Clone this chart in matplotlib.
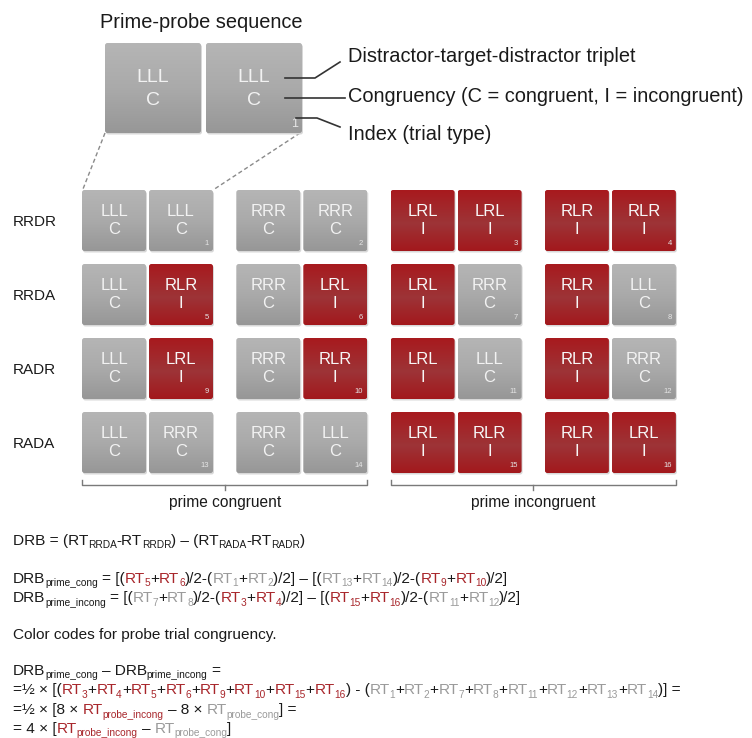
import numpy as np
import matplotlib
matplotlib.use("Agg")
import matplotlib.pyplot as plt
from matplotlib.patches import FancyBboxPatch
from matplotlib import font_manager
from matplotlib.font_manager import FontProperties

# ---------------- data ----------------
row_labels = ["RRDR", "RRDA", "RADR", "RADA"]
# each row: 4 prime-probe pairs -> (prime triplet, prime cong, probe triplet, probe cong, index)
row_rrdr = [("LLL", "C", "LLL", "C", 1), ("RRR", "C", "RRR", "C", 2),
            ("LRL", "I", "LRL", "I", 3), ("RLR", "I", "RLR", "I", 4)]
row_rrda = [("LLL", "C", "RLR", "I", 5), ("RRR", "C", "LRL", "I", 6),
            ("LRL", "I", "RRR", "C", 7), ("RLR", "I", "LLL", "C", 8)]
row_radr = [("LLL", "C", "LRL", "I", 9), ("RRR", "C", "RLR", "I", 10),
            ("LRL", "I", "LLL", "C", 11), ("RLR", "I", "RRR", "C", 12)]
row_rada = [("LLL", "C", "RRR", "C", 13), ("RRR", "C", "LLL", "C", 14),
            ("LRL", "I", "RLR", "I", 15), ("RLR", "I", "LRL", "I", 16)]
grid_rows = [row_rrdr, row_rrda, row_radr, row_rada]
group_labels = ["prime congruent", "prime incongruent"]
example_pair = ("LLL", "C", "LLL", "C", 1)
legend_texts = ["Distractor-target-distractor triplet",
                "Congruency (C = congruent, I = incongruent)",
                "Index (trial type)"]
red_idx = [3, 4, 5, 6, 9, 10, 15, 16]
gray_idx = [1, 2, 7, 8, 11, 12, 13, 14]

# ---------------- style ----------------
def pick_font(names):
    for n in names:
        try:
            font_manager.findfont(n, fallback_to_default=False)
            return n
        except Exception:
            pass
    return "DejaVu Sans"

FONT = pick_font(["Liberation Sans", "Arial", "DejaVu Sans"])
plt.rcParams["font.family"] = [FONT, "DejaVu Sans"]

BLACK = "#1a1a1a"
RED = "#a8262b"
GRAY = "#9a9a9a"

W, H = 752, 738
fig = plt.figure(figsize=(W / 100, H / 100), dpi=100)
ax = fig.add_axes([0, 0, 1, 1])
ax.set_xlim(0, W)
ax.set_ylim(H, 0)
ax.axis("off")
renderer = fig.canvas.get_renderer()


def gradient(kind):
    if kind == "C":
        stops = [(0.0, (181, 181, 181)), (0.5, (170, 170, 170)), (1.0, (151, 151, 151))]
    else:
        stops = [(0.0, (168, 26, 30)), (0.55, (157, 52, 55)), (1.0, (163, 24, 28))]
    n = 64
    t = np.linspace(0, 1, n)
    arr = np.zeros((n, 1, 3))
    for c in range(3):
        arr[:, 0, c] = np.interp(t, [s[0] for s in stops], [s[1][c] for s in stops]) / 255.0
    return arr


def draw_box(x, y, w, h, trip, cong, idx=None, fs=12, ifs=6.0, big=False):
    sh = FancyBboxPatch((x + 1.0, y + 1.5), w, h, boxstyle="round,pad=0,rounding_size=2.5",
                        fc="#d8d8d8", ec="none", zorder=1)
    ax.add_patch(sh)
    patch = FancyBboxPatch((x, y), w, h, boxstyle="round,pad=0,rounding_size=2.5",
                           fc="none", ec="none", zorder=2)
    ax.add_patch(patch)
    im = ax.imshow(gradient(cong), extent=(x, x + w, y + h, y), aspect="auto",
                   interpolation="bilinear", zorder=2)
    im.set_clip_path(patch)
    tc = "#f2f2f2" if cong == "C" else "#f7f7f7"
    cx = x + w / 2
    off1, off2 = (0.36, 0.64) if not big else (0.38, 0.64)
    ax.text(cx, y + h * off1, trip, ha="center", va="center", color=tc, fontsize=fs, zorder=3)
    ax.text(cx, y + h * off2, cong, ha="center", va="center", color=tc, fontsize=fs, zorder=3)
    if idx is not None:
        ax.text(x + w - 4, y + h - 6, str(idx), ha="right", va="baseline",
                color="#e6e6e6", fontsize=ifs, zorder=3)


# ---------------- top example ----------------
TFS = 14.4
ax.text(100, 22, "Prime-probe sequence", ha="left", va="center", fontsize=TFS, color=BLACK)
bx = [105, 206]
bw, bh, by = 96, 90, 43
p_trip, p_cong, q_trip, q_cong, q_idx = example_pair
draw_box(bx[0], by, bw, bh, p_trip, p_cong, None, fs=14, big=True)
draw_box(bx[1], by, bw, bh, q_trip, q_cong, q_idx, fs=14, ifs=9, big=True)

lc = "#333333"
ax.plot([285, 315, 340], [78, 78, 62], color=lc, lw=1.2, zorder=4)
ax.plot([285, 345], [98, 98], color=lc, lw=1.2, zorder=4)
ax.plot([296, 317, 340], [118, 118, 127], color=lc, lw=1.2, zorder=4)
ax.text(348, 56, legend_texts[0], ha="left", va="center", fontsize=TFS, color=BLACK)
ax.text(348, 97, legend_texts[1], ha="left", va="center", fontsize=TFS, color=BLACK)
ax.text(348, 134, legend_texts[2], ha="left", va="center", fontsize=TFS, color=BLACK)

# ---------------- grid ----------------
x0, pair_pitch, inner, cw = 82, 154.3, 67, 64
y0, row_pitch, ch = 190, 74, 61
for r, (lab, row) in enumerate(zip(row_labels, grid_rows)):
    yy = y0 + r * row_pitch
    ax.text(13, yy + ch / 2 + 1, lab, ha="left", va="center", fontsize=11, color=BLACK)
    for p, (pt, pc, qt, qc, idx) in enumerate(row):
        xx = x0 + p * pair_pitch
        draw_box(xx, yy, cw, ch, pt, pc, None, fs=12)
        draw_box(xx + inner, yy, cw, ch, qt, qc, idx, fs=12, ifs=5.5)

ax.plot([bx[0], x0 + 1], [by + bh, y0 - 1], color="#8a8a8a", lw=1, ls=(0, (3, 2)), zorder=0)
ax.plot([bx[1] + bw - 2, x0 + inner + cw], [by + bh, y0], color="#8a8a8a", lw=1,
        ls=(0, (3, 2)), zorder=0)

by_br = 485
for g, lab in enumerate(group_labels):
    xl = x0 + 2 * g * pair_pitch
    xr = xl + pair_pitch + inner + cw
    ax.plot([xl, xl, xr, xr], [by_br - 5, by_br, by_br, by_br - 5], color="#7a7a7a", lw=1)
    xm = (xl + xr) / 2
    ax.plot([xm, xm], [by_br, by_br + 5], color="#7a7a7a", lw=1)
    ax.text(xm, 503, lab, ha="center", va="center", fontsize=11.2, color=BLACK)


# ---------------- formulas ----------------
def tw(s, fs):
    fp = FontProperties(family=FONT, size=fs)
    w1, _, _ = renderer.get_text_width_height_descent(s + "|", fp, ismath=False)
    w2, _, _ = renderer.get_text_width_height_descent("|", fp, ismath=False)
    return w1 - w2


def draw_runs(x, y, runs, fs=11):
    prev_main = False
    for text, color, sub in runs:
        f = fs * 0.66 if sub else fs
        dy = 3.5 if sub else 0.0
        if sub and prev_main:
            x -= 0.4
        stripped = text.lstrip(" ")
        lead = text[: len(text) - len(stripped)]
        if lead:
            x += tw(lead, f)
        if stripped:
            ax.text(x, y + dy, stripped, ha="left", va="baseline", color=color, fontsize=f)
            x += tw(stripped, f)
        prev_main = not sub
    return x


def rt(i, color):
    return [("RT", color, False), (str(i), color, True)]


def sum_pair(a, ca, b, cb):
    return rt(a, ca) + [("+", B, False)] + rt(b, cb)


B = BLACK
FS = 11.1
draw_runs(13, 545, [("DRB = (RT", B, False), ("RRDA", B, True), ("-RT", B, False), ("RRDR", B, True),
                    (") \u2013 (RT", B, False), ("RADA", B, True), ("-RT", B, False), ("RADR", B, True),
                    (")", B, False)], FS)

cong_runs = ([("DRB", B, False), ("prime_cong", B, True), (" = [(", B, False)] + sum_pair(5, RED, 6, RED)
             + [(")/2-(", B, False)] + sum_pair(1, GRAY, 2, GRAY) + [(")/2] \u2013 [(", B, False)]
             + sum_pair(13, GRAY, 14, GRAY) + [(")/2-(", B, False)] + sum_pair(9, RED, 10, RED)
             + [(")/2]", B, False)])
draw_runs(13, 583, cong_runs, FS)
incong_runs = ([("DRB", B, False), ("prime_incong", B, True), (" = [(", B, False)] + sum_pair(7, GRAY, 8, GRAY)
               + [(")/2-(", B, False)] + sum_pair(3, RED, 4, RED) + [(")/2] \u2013 [(", B, False)]
               + sum_pair(15, RED, 16, RED) + [(")/2-(", B, False)] + sum_pair(11, GRAY, 12, GRAY)
               + [(")/2]", B, False)])
draw_runs(13, 602, incong_runs, FS)

draw_runs(13, 639, [("Color codes for probe trial congruency.", B, False)], FS)

draw_runs(13, 675, [("DRB", B, False), ("prime_cong", B, True), (" \u2013 DRB", B, False),
                    ("prime_incong", B, True), (" =", B, False)], FS)

runs = [("=\u00bd \u00d7 [(", B, False)]
for k, i in enumerate(red_idx):
    if k:
        runs.append(("+", B, False))
    runs += rt(i, RED)
runs.append((") - (", B, False))
for k, i in enumerate(gray_idx):
    if k:
        runs.append(("+", B, False))
    runs += rt(i, GRAY)
runs.append((")] =", B, False))
draw_runs(13, 694, runs, FS)

draw_runs(13, 714, [("=\u00bd \u00d7 [8 \u00d7 ", B, False), ("RT", RED, False), ("probe_incong", RED, True),
                    (" \u2013 8 \u00d7 ", B, False), ("RT", GRAY, False), ("probe_cong", GRAY, True),
                    ("] =", B, False)], FS)
draw_runs(13, 733, [("= 4 \u00d7 [", B, False), ("RT", RED, False), ("probe_incong", RED, True),
                    (" \u2013 ", B, False), ("RT", GRAY, False), ("probe_cong", GRAY, True),
                    ("]", B, False)], FS)

fig.savefig("out.png", dpi=100)
